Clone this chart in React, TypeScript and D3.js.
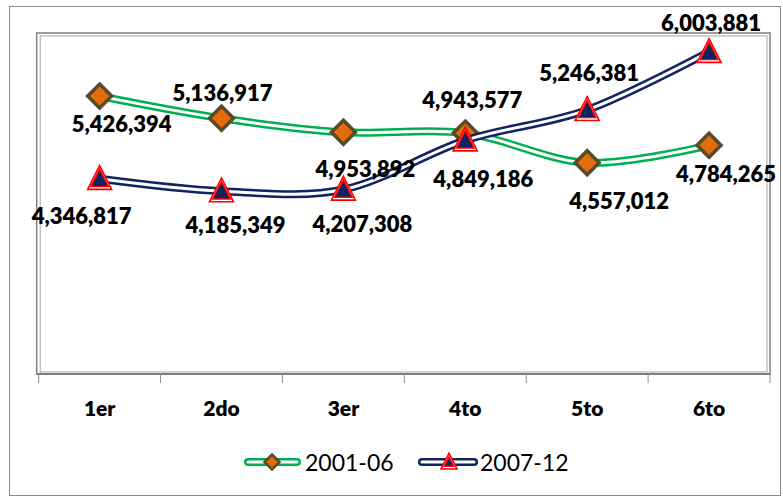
import * as d3 from 'd3'

const categories = ['1er', '2do', '3er', '4to', '5to', '6to']
const series2001 = [5426394, 5136917, 4953892, 4943577, 4557012, 4784265]
const series2007 = [4346817, 4185349, 4207308, 4849186, 5246381, 6003881]
const seriesNames = ['2001-06', '2007-12']

// manual label offsets (dx, dy) from each point, as placed in the original
const labelOffsets2001 = [[22, 27], [1, -26], [22, 36], [7, -34], [32, 38], [17, 28]]
const labelOffsets2007 = [[-18, 37], [14, 33], [19, 34], [18, 38], [2, -37], [2, -29]]

const W = 783
const H = 498
const plot = { left: 38.7, right: 770, top: 33, bottom: 374 }

const GREEN = '#00B050'
const NAVY = '#0F2460'
const ORANGE = '#E46C0A'
const OLIVE = '#574B2B'
const RED = '#FF0000'
const FONT = 'Lato, "Open Sans", "DejaVu Sans", sans-serif'

const fmt = d3.format(',')

function diamond(cx: number, cy: number, r: number) {
  return `M${cx},${cy - r}L${cx + r},${cy}L${cx},${cy + r}L${cx - r},${cy}Z`
}

function triangle(cx: number, cy: number, s: number) {
  const up = s * 1.1
  const down = s * 0.88
  const half = s
  return `M${cx},${cy - up}L${cx + half},${cy + down}L${cx - half},${cy + down}Z`
}

function Diamond({ cx, cy, r }: { cx: number; cy: number; r: number }) {
  return <path d={diamond(cx, cy, r)} fill={ORANGE} stroke={OLIVE} strokeWidth={r > 8 ? 3.5 : 2.5} strokeLinejoin="miter" />
}

function Triangle({ cx, cy, s }: { cx: number; cy: number; s: number }) {
  return (
    <g>
      <path d={triangle(cx, cy, s)} fill="#fff" stroke={RED} strokeWidth={1.6} strokeLinejoin="miter" />
      <path d={triangle(cx, cy, s - 3.2)} fill={NAVY} stroke={RED} strokeWidth={1.4} strokeLinejoin="miter" />
    </g>
  )
}

export default function App() {
  const x = d3.scaleBand().domain(categories).range([plot.left, plot.right]).paddingInner(0).paddingOuter(0)
  const y = d3.scaleLinear().domain([1800000, 6250000]).range([plot.bottom, plot.top])
  const cx = (c: string) => (x(c) ?? 0) + x.bandwidth() / 2

  const line = d3
    .line<number>()
    .x((_, i) => cx(categories[i]))
    .y((d) => y(d))
    .curve(d3.curveCardinal.tension(0))

  const tickXs = [...categories.map((c) => x(c) ?? 0), plot.right]

  const renderLine = (values: number[], color: string) => (
    <g>
      <path d={line(values) ?? ''} fill="none" stroke={color} strokeWidth={8} strokeLinejoin="round" />
      <path d={line(values) ?? ''} fill="none" stroke="#fff" strokeWidth={3} strokeLinejoin="round" />
    </g>
  )

  const renderLabels = (values: number[], offsets: number[][]) =>
    values.map((v, i) => (
      <text
        key={i}
        x={cx(categories[i]) + offsets[i][0]}
        y={y(v) + offsets[i][1]}
        textAnchor="middle"
        dominantBaseline="central"
        fontFamily={FONT}
        fontWeight={800}
        fontSize={22}
        fill="#000"
      >
        {fmt(v)}
      </text>
    ))

  return (
    <svg width={W} height={H} style={{ position: 'absolute', left: 0, top: 0, background: '#fff' }}>
      <rect x={0} y={0} width={W} height={H} fill="#fff" />
      <rect x={9.5} y={6.5} width={771} height={489} fill="none" stroke="#8c8c8c" strokeWidth={1} />

      {/* plot area frame */}
      <rect
        x={plot.left - 2}
        y={plot.top}
        width={plot.right - plot.left + 2}
        height={plot.bottom - plot.top}
        fill="none"
        stroke="#7f7f7f"
        strokeWidth={1.5}
      />
      <rect
        x={plot.left + 1.5}
        y={plot.top + 3}
        width={plot.right - plot.left - 4.5}
        height={plot.bottom - plot.top - 5}
        fill="none"
        stroke="#a6a6a6"
        strokeWidth={1}
      />
      <line x1={plot.left - 2} x2={plot.right} y1={plot.bottom} y2={plot.bottom} stroke="#7f7f7f" strokeWidth={2} />

      {/* category axis */}
      {tickXs.map((tx, i) => (
        <line key={i} x1={tx} x2={tx} y1={plot.bottom} y2={plot.bottom + 9} stroke="#8c8c8c" strokeWidth={1} />
      ))}
      {categories.map((c) => (
        <text
          key={c}
          x={cx(c)}
          y={407}
          textAnchor="middle"
          dominantBaseline="central"
          fontFamily={FONT}
          fontWeight={800}
          fontSize={21}
          fill="#000"
        >
          {c}
        </text>
      ))}

      {/* series 2001-06 */}
      {renderLine(series2001, GREEN)}
      {series2001.map((v, i) => (
        <Diamond key={i} cx={cx(categories[i])} cy={y(v)} r={12} />
      ))}

      {/* series 2007-12 */}
      {renderLine(series2007, NAVY)}
      {series2007.map((v, i) => (
        <Triangle key={i} cx={cx(categories[i])} cy={y(v)} s={12} />
      ))}

      {renderLabels(series2001, labelOffsets2001)}
      {renderLabels(series2007, labelOffsets2007)}

      {/* legend */}
      <g>
        <line x1={248} x2={297} y1={462} y2={462} stroke={GREEN} strokeWidth={8} strokeLinecap="round" />
        <line x1={248} x2={297} y1={462} y2={462} stroke="#fff" strokeWidth={3} strokeLinecap="round" />
        <Diamond cx={272} cy={462} r={7.5} />
        <text x={305} y={462} dominantBaseline="central" fontFamily={FONT} fontSize={23} fill="#000">
          {seriesNames[0]}
        </text>

        <line x1={422} x2={474} y1={462} y2={462} stroke={NAVY} strokeWidth={8} strokeLinecap="round" />
        <line x1={422} x2={474} y1={462} y2={462} stroke="#fff" strokeWidth={3} strokeLinecap="round" />
        <Triangle cx={449} cy={462} s={8} />
        <text x={480} y={462} dominantBaseline="central" fontFamily={FONT} fontSize={23} fill="#000">
          {seriesNames[1]}
        </text>
      </g>
    </svg>
  )
}
